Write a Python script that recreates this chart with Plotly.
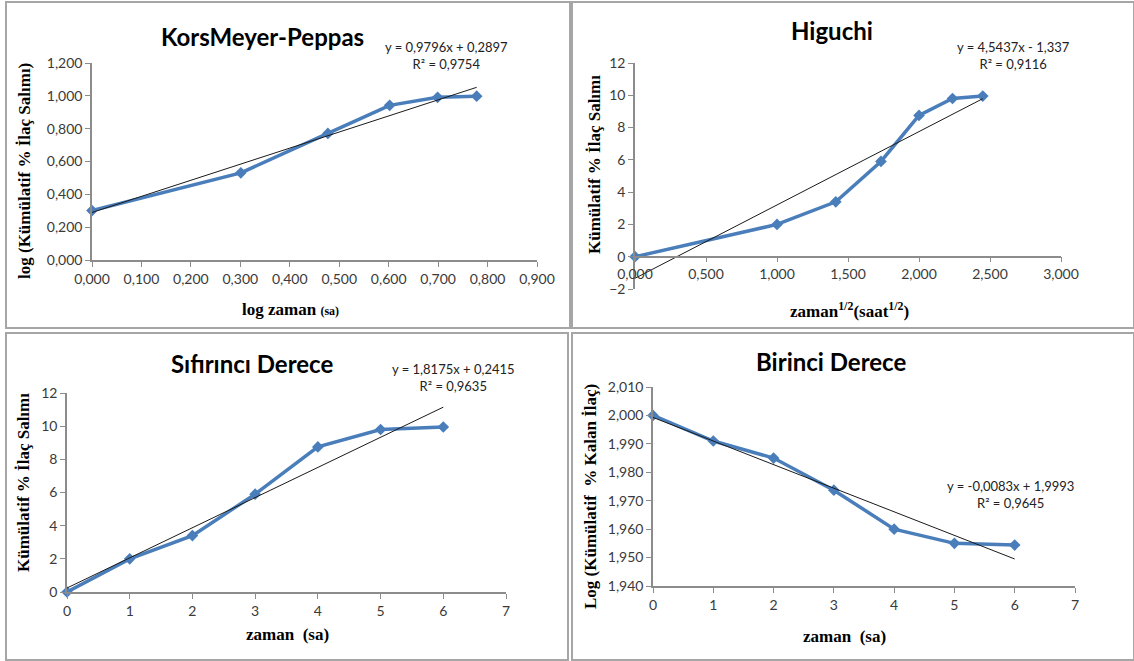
import plotly.graph_objects as go

W, H = 1134, 661

# ---- data ----
kp_x = [0.000, 0.301, 0.477, 0.602, 0.699, 0.778]
kp_y = [0.301, 0.531, 0.771, 0.942, 0.991, 0.998]
kp_slope, kp_int = 0.9796, 0.2897

hig_x = [0.000, 1.000, 1.414, 1.732, 2.000, 2.236, 2.449]
hig_y = [0.0, 2.0, 3.4, 5.9, 8.75, 9.8, 9.95]
hig_slope, hig_int = 4.5437, -1.337

zero_x = [0, 1, 2, 3, 4, 5, 6]
zero_y = [0.0, 2.0, 3.4, 5.9, 8.75, 9.8, 9.95]
zero_slope, zero_int = 1.8175, 0.2415

first_x = [0, 1, 2, 3, 4, 5, 6]
first_y = [2.000, 1.991, 1.985, 1.9737, 1.960, 1.955, 1.9544]
first_slope, first_int = -0.0083, 1.9993

BLUE = "#4A7EBB"
AXC = "#8C8C8C"
SANS = "Lato, Open Sans, sans-serif"
SERIF = "Liberation Serif, Times New Roman, serif"

def px(x):
    return x / W

def py(y):
    return 1 - y / H

fig = go.Figure()

panels = [
    ("1", kp_x, kp_y, kp_slope, kp_int, (92, 537), (63, 260), [0, 0.9], [0, 1.2], 0.1, 0.2, ".3f", ".3f"),
    ("2", hig_x, hig_y, hig_slope, hig_int, (635, 1061), (63, 289), [0, 3.0], [-2, 12], 0.5, 2, ".3f", "d"),
    ("3", zero_x, zero_y, zero_slope, zero_int, (67, 506), (393, 592), [0, 7], [0, 12], 1, 2, "d", "d"),
    ("4", first_x, first_y, first_slope, first_int, (653, 1075), (387, 586), [0, 7], [1.94, 2.01], 1, 0.01, "d", ".3f"),
]

layout_axes = {}
for name, xs, ys, s, b, xd, yd, xr, yr, xdt, ydt, xf, yf in panels:
    xa = "x" if name == "1" else "x" + name
    ya = "y" if name == "1" else "y" + name
    fig.add_trace(go.Scatter(
        x=xs, y=ys, mode="lines+markers", xaxis=xa, yaxis=ya,
        line=dict(color=BLUE, width=3.5),
        marker=dict(symbol="diamond", size=9, color=BLUE),
        showlegend=False, hoverinfo="x+y", cliponaxis=False))
    tx = [xs[0], xs[-1]]
    ty = [s * xs[0] + b, s * xs[-1] + b]
    fig.add_trace(go.Scatter(
        x=tx, y=ty, mode="lines", xaxis=xa, yaxis=ya,
        line=dict(color="#1a1a1a", width=1), showlegend=False, hoverinfo="skip"))
    xkey = "xaxis" if name == "1" else "xaxis" + name
    ykey = "yaxis" if name == "1" else "yaxis" + name
    ydom = [py(yd[1]), py(yd[0])]
    xaxis = dict(domain=[px(xd[0]), px(xd[1])], range=xr, dtick=xdt, tick0=0,
                 tickformat=xf, showgrid=False, zeroline=False, showline=True,
                 linecolor=AXC, linewidth=1.5, ticks="outside", ticklen=5,
                 tickcolor=AXC, tickwidth=1, automargin=False,
                 tickfont=dict(family=SANS, size=14, color="#3a3a3a"),
                 fixedrange=True)
    if name == "2":
        zero_frac = (0 - yr[0]) / (yr[1] - yr[0])
        xaxis.update(anchor="free", position=ydom[0] + zero_frac * (ydom[1] - ydom[0]))
    else:
        xaxis.update(anchor=ya)
    yaxis = dict(domain=ydom, range=yr, dtick=ydt, tick0=yr[0] if name == "4" else 0,
                 tickformat=yf, showgrid=False, zeroline=False, showline=True,
                 linecolor=AXC, linewidth=1.5, ticks="outside", ticklen=5,
                 tickcolor=AXC, tickwidth=1, anchor=xa, automargin=False,
                 tickfont=dict(family=SANS, size=14, color="#3a3a3a"),
                 fixedrange=True)
    layout_axes[xkey] = xaxis
    layout_axes[ykey] = yaxis

fig.update_layout(**layout_axes)

# panel borders
shapes = []
for (x0, y0, x1, y1) in [(6, 2, 570, 328), (572, 2, 1134, 328), (6, 333, 568, 660), (572, 333, 1134, 660)]:
    shapes.append(dict(type="rect", xref="paper", yref="paper",
                       x0=px(x0), x1=px(x1), y0=py(y1), y1=py(y0),
                       line=dict(color="#A6A6A6", width=2), fillcolor="rgba(0,0,0,0)"))

ann = []

def text(x, y, t, size, family, bold=False, angle=0, color="#000"):
    ann.append(dict(xref="paper", yref="paper", x=px(x), y=py(y), text=("<b>%s</b>" % t) if bold else t,
                    showarrow=False, xanchor="center", yanchor="middle", textangle=angle,
                    font=dict(family=family, size=size, color=color), align="center"))

# titles
text(262, 37, "KorsMeyer-Peppas", 24, SANS, bold=True)
text(832, 30, "Higuchi", 24, SANS, bold=True)
text(252, 363, "Sıfırıncı Derece", 24, SANS, bold=True)
text(831, 361, "Birinci Derece", 24, SANS, bold=True)

# equations
text(446, 56, "y = 0,9796x + 0,2897<br>R² = 0,9754", 13, SANS, color="#222")
text(1013, 56, "y = 4,5437x - 1,337<br>R² = 0,9116", 13, SANS, color="#222")
text(453, 377, "y = 1,8175x + 0,2415<br>R² = 0,9635", 13, SANS, color="#222")
text(1010, 494, "y = -0,0083x + 1,9993<br>R² = 0,9645", 13, SANS, color="#222")

# axis titles
text(290, 310, "log zaman <span style='font-size:12px'>(sa)</span>", 17, SERIF, bold=True)
text(849, 310, "zaman<sup>1/2</sup>(saat<sup>1/2</sup>)", 17, SERIF, bold=True)
text(287, 634, "zaman  (sa)", 17, SERIF, bold=True)
text(844, 636, "zaman  (sa)", 17, SERIF, bold=True)
text(25, 171, "log (Kümülatif % İlaç Salımı)", 17, SERIF, bold=True, angle=-90)
text(594, 165, "Kümülatif % İlaç Salımı", 17, SERIF, bold=True, angle=-90)
text(23, 483, "Kümülatif % İlaç Salımı", 17, SERIF, bold=True, angle=-90)
text(590, 497, "Log (Kümülatif  % Kalan İlaç)", 17, SERIF, bold=True, angle=-90)

fig.update_layout(width=W, height=H, margin=dict(l=0, r=0, t=0, b=0),
                  paper_bgcolor="white", plot_bgcolor="white",
                  separators=", ", shapes=shapes, annotations=ann,
                  showlegend=False)

fig.write_html("out.html", config={"displayModeBar": False})
